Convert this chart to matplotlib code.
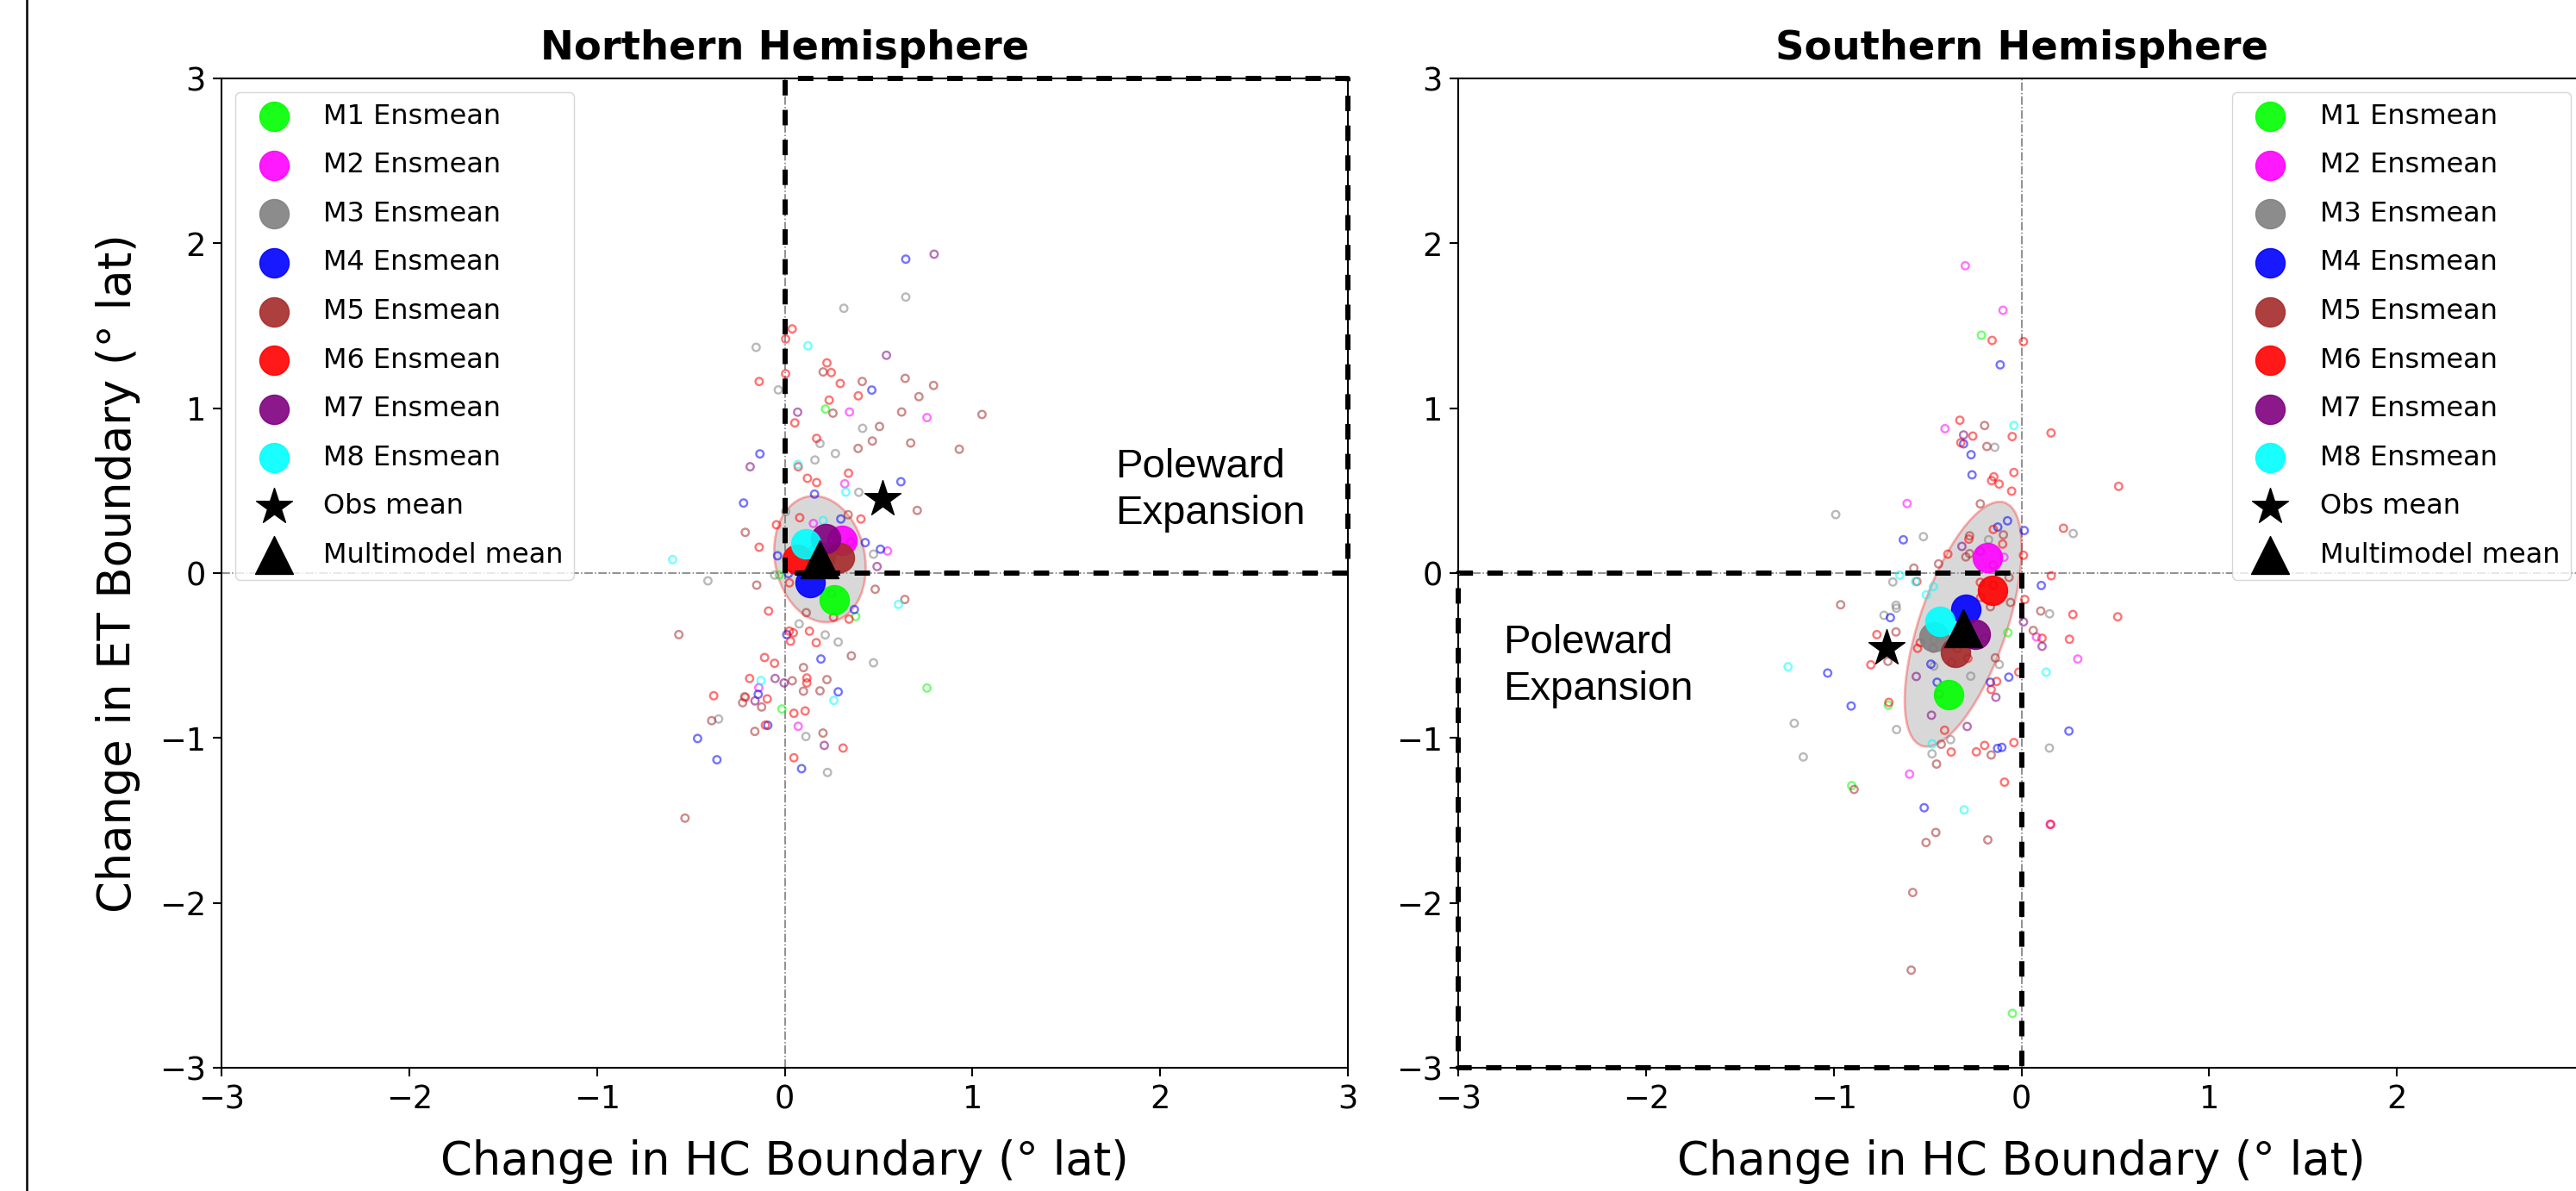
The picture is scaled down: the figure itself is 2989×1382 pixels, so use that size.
import numpy as np
import matplotlib
matplotlib.use('Agg')
import matplotlib.pyplot as plt
from matplotlib.patches import Ellipse
from matplotlib.lines import Line2D

## model names and colours
models = ['M1', 'M2', 'M3', 'M4', 'M5', 'M6', 'M7', 'M8']
colors = ['lime', 'magenta', 'grey', 'blue', 'brown', 'red', 'purple', 'cyan']

## Northern Hemisphere, individual members (dHC, dET)
nh_m1 = np.array([(0.217, 0.995), (-0.029, -0.012), (0.378, -0.263), (0.758, -0.697), (-0.015, -0.824)])
nh_m2 = np.array([(0.345, 0.977), (0.758, 0.943), (0.320, 0.542), (0.153, 0.301), (0.548, 0.134),
                  (-0.138, -0.695), (0.072, -0.929)])
nh_m3 = np.array([(0.645, 1.674), (0.315, 1.606), (-0.152, 1.369), (-0.034, 1.111), (0.415, 0.878),
                  (0.188, 0.786), (0.270, 0.725), (0.161, 0.686), (0.395, 0.490), (0.005, 0.373),
                  (0.473, 0.115), (-0.409, -0.047), (-0.054, -0.012), (0.250, -0.125), (0.077, -0.308),
                  (0.216, -0.375), (0.285, -0.418), (0.473, -0.544), (-0.214, -0.749), (-0.352, -0.885),
                  (0.113, -0.991), (0.228, -1.209)])
nh_m4 = np.array([(0.645, 1.904), (0.464, 1.110), (-0.132, 0.723), (0.159, 0.479), (0.619, 0.554),
                  (-0.219, 0.425), (0.299, 0.328), (0.429, 0.185), (0.510, 0.145), (-0.038, 0.105),
                  (0.020, -0.003), (0.371, -0.221), (0.011, -0.373), (0.193, -0.521), (0.285, -0.720),
                  (-0.141, -0.735), (-0.090, -0.923), (-0.464, -1.003), (-0.361, -1.132), (0.090, -1.186)])
nh_m5 = np.array([(0.205, 1.220), (0.413, 1.162), (0.642, 1.181), (0.793, 1.138), (0.715, 1.070),
                  (0.257, 0.970), (1.051, 0.962), (0.623, 0.977), (0.505, 0.889), (0.467, 0.801),
                  (0.671, 0.789), (0.391, 0.756), (0.930, 0.751), (0.706, 0.380), (0.338, 0.354),
                  (-0.210, 0.247), (-0.149, -0.073), (0.482, -0.098), (0.640, -0.160), (0.115, -0.240),
                  (0.355, -0.502), (0.100, -0.573), (0.040, -0.653), (0.225, -0.646), (0.100, -0.716),
                  (0.188, -0.714), (-0.224, -0.786), (-0.123, -0.812), (-0.389, -0.895), (-0.159, -0.960),
                  (0.204, -0.970), (-0.531, -1.486), (-0.564, -0.373)])
nh_m6 = np.array([(0.040, 1.481), (0.005, 1.420), (0.225, 1.275), (0.248, 1.216), (0.005, 1.209),
                  (-0.136, 1.162), (0.296, 1.150), (0.392, 1.075), (0.237, 1.049), (0.054, 0.911),
                  (0.170, 0.817), (0.072, 0.645), (0.121, 0.575), (0.170, 0.549), (0.340, 0.606),
                  (0.080, 0.336), (0.406, 0.328), (-0.044, 0.293), (-0.136, 0.157), (0.025, -0.059),
                  (-0.086, -0.230), (0.260, -0.268), (0.343, -0.279), (0.025, -0.352), (0.046, -0.362),
                  (0.031, -0.413), (0.132, -0.352), (0.168, -0.422), (-0.107, -0.512), (-0.054, -0.547),
                  (-0.187, -0.639), (0.118, -0.636), (0.118, -0.666), (-0.378, -0.744), (-0.210, -0.753),
                  (-0.093, -0.763), (0.049, -0.850), (0.109, -0.836), (-0.103, -0.922), (0.311, -1.061),
                  (0.049, -1.120)])
nh_m7 = np.array([(0.796, 1.934), (0.542, 1.321), (0.069, 0.976), (-0.184, 0.645), (0.352, 0.188),
                  (0.492, 0.040), (-0.051, -0.639), (-0.003, -0.666), (-0.158, -0.775), (0.211, -1.045)])
nh_m8 = np.array([(0.124, 1.378), (0.070, 0.659), (0.326, 0.491), (0.205, 0.319), (-0.597, 0.082),
                  (0.606, -0.190), (-0.126, -0.652), (0.262, -0.772)])

## Northern Hemisphere ensemble means, obs, multimodel mean
nh_ensmean = np.array([(0.265, -0.160), (0.303, 0.197), (0.190, 0.100), (0.135, -0.059),
                       (0.292, 0.092), (0.066, 0.084), (0.216, 0.209), (0.112, 0.179)])
nh_obs = (0.521, 0.449)
nh_mmm = (0.188, 0.084)

## Southern Hemisphere, individual members
sh_m1 = np.array([(-0.213, 1.443), (-0.072, -0.361), (-0.709, -0.801), (-0.904, -1.289), (-0.048, -2.670)])
sh_m2 = np.array([(-0.299, 1.864), (-0.098, 1.594), (-0.407, 0.876), (-0.609, 0.422), (-0.093, 0.096),
                  (0.080, -0.387), (0.300, -0.521), (-0.596, -1.219), (0.153, -1.524)])
sh_m3 = np.array([(-0.142, 0.763), (-0.989, 0.355), (0.276, 0.240), (-0.522, 0.221), (-0.175, 0.202),
                  (-0.685, -0.054), (-0.668, -0.195), (-0.666, -0.213), (-0.732, -0.256), (0.150, -0.247),
                  (-0.464, -0.404), (-0.467, -0.564), (-0.270, -0.625), (-0.193, -0.395), (-0.118, -0.554),
                  (-1.210, -0.911), (-1.162, -1.115), (-0.665, -0.949), (-0.377, -1.010), (-0.476, -1.096),
                  (0.149, -1.061)])
sh_m4 = np.array([(-0.113, 1.263), (-0.308, 0.784), (-0.268, 0.718), (-0.263, 0.596), (-0.074, 0.317),
                  (-0.126, 0.279), (0.015, 0.258), (-0.629, 0.202), (-0.219, 0.132), (0.106, -0.075),
                  (-0.698, -0.270), (-1.032, -0.606), (-0.907, -0.806), (-0.482, -0.552), (-0.449, -0.662),
                  (-0.165, -0.662), (-0.067, -0.631), (-0.518, -1.423), (-0.127, -1.063), (-0.104, -1.057),
                  (0.253, -0.958)])
sh_m5 = np.array([(-0.196, 0.895), (-0.184, 0.768), (-0.219, 0.420), (-0.096, 0.232), (-0.276, 0.226),
                  (-0.296, 0.098), (-0.276, 0.118), (-0.150, 0.049), (-0.441, 0.056), (-0.573, 0.030),
                  (-0.066, -0.026), (-0.149, -0.073), (-0.058, -0.178), (-0.165, -0.204), (-0.963, -0.192),
                  (0.103, -0.230), (-0.668, -0.357), (-0.711, -0.535), (-0.891, -1.312), (-0.456, -1.573),
                  (-0.508, -1.634), (-0.179, -1.618), (-0.579, -1.937), (-0.587, -2.408), (-0.470, -0.456),
                  (-0.372, -0.543), (-0.139, -0.514), (-0.438, -0.732), (0.063, -0.348), (-0.427, -1.038),
                  (-0.452, -1.158), (-0.161, -1.103)])
sh_m6 = np.array([(-0.156, 1.411), (0.011, 1.404), (-0.328, 0.927), (-0.259, 0.831), (-0.323, 0.791),
                  (-0.049, 0.828), (0.158, 0.850), (-0.147, 0.584), (-0.159, 0.561), (-0.119, 0.540),
                  (-0.040, 0.610), (-0.052, 0.497), (0.518, 0.526), (-0.150, 0.265), (0.224, 0.272),
                  (-0.280, 0.206), (-0.100, 0.176), (-0.392, 0.115), (0.011, 0.108), (-0.557, -0.051),
                  (0.159, -0.016), (0.018, -0.160), (-0.219, -0.056), (-0.217, -0.148), (0.274, -0.251),
                  (0.513, -0.265), (-0.770, -0.373), (-0.802, -0.556), (-0.706, -0.784), (-0.090, -1.268),
                  (0.156, -1.524), (-0.539, -0.422), (-0.553, -0.456), (-0.342, -0.456), (-0.285, -0.517),
                  (-0.132, -0.657), (-0.161, -0.706), (-0.014, -0.601), (0.110, -0.395), (0.256, -0.401),
                  (-0.409, -0.953), (-0.374, -1.085), (-0.240, -1.084), (-0.196, -1.045), (-0.040, -1.028)])
sh_m7 = np.array([(-0.308, 0.838), (-0.317, 0.162), (0.011, -0.296), (0.110, -0.444), (-0.560, -0.627),
                  (-0.136, -0.753), (-0.479, -0.862), (-0.289, -0.930)])
sh_m8 = np.array([(-0.040, 0.895), (-0.648, -0.012), (-0.564, -0.052), (-0.469, -0.082), (-0.507, -0.132),
                  (-1.243, -0.568), (0.132, -0.601), (-0.305, -1.436), (-0.475, -1.036)])

sh_ensmean = np.array([(-0.387, -0.739), (-0.181, 0.092), (-0.464, -0.387), (-0.296, -0.221),
                       (-0.349, -0.483), (-0.153, -0.105), (-0.247, -0.369), (-0.433, -0.291)])
sh_obs = (-0.717, -0.456)
sh_mmm = (-0.311, -0.334)

nh_members = [nh_m1, nh_m2, nh_m3, nh_m4, nh_m5, nh_m6, nh_m7, nh_m8]
sh_members = [sh_m1, sh_m2, sh_m3, sh_m4, sh_m5, sh_m6, sh_m7, sh_m8]

## spread ellipses (centre, width, height, angle)
nh_ellipse = ((0.188, 0.085), 0.48, 0.77, 8)
sh_ellipse = ((-0.31, -0.31), 1.54, 0.47, 73.8)


def draw_panel(ax, members, ensmean, obs, mmm, ell, box_x, box_y, txt_xy, title, loc):
    ax.axhline(0, color='0.45', ls='-.', lw=1.1, zorder=0)
    ax.axvline(0, color='0.45', ls='-.', lw=1.1, zorder=0)
    e = Ellipse(ell[0], ell[1], ell[2], angle=ell[3], facecolor=(0.5, 0.5, 0.5, 0.3),
                edgecolor=(1, 0, 0, 0.3), lw=2, zorder=1)
    ax.add_patch(e)
    for i in range(8):
        ax.scatter(members[i][:, 0], members[i][:, 1], s=38, facecolors='none',
                   edgecolors=colors[i], linewidths=1.7, alpha=0.55, zorder=2)
        ax.scatter(ensmean[i, 0], ensmean[i, 1], s=600, color=colors[i], alpha=0.9,
                   zorder=3, label=models[i] + ' Ensmean')
    ax.plot(box_x, box_y, color='black', lw=4.3, ls='--', dashes=(3.0, 2.8), zorder=4,
            clip_on=False)
    ax.scatter(obs[0], obs[1], s=1000, marker='*', color='black', zorder=6, label='Obs mean')
    ax.scatter(mmm[0], mmm[1], s=1000, marker='^', color='black', zorder=6, label='Multimodel mean')
    ax.text(txt_xy[0], txt_xy[1], 'Poleward\nExpansion', fontsize=34, family='Liberation Sans',
            ha='left', va='center', linespacing=1.3)
    ax.set_xlim(-3, 3)
    ax.set_ylim(-3, 3)
    ax.set_xticks(range(-3, 4))
    ax.set_yticks(range(-3, 4))
    ax.tick_params(labelsize=26.5, length=7, width=1.5, pad=6)
    for sp in ax.spines.values():
        sp.set_linewidth(1.5)
    ax.set_title(title, fontsize=33.5, fontweight='bold', pad=16)
    ax.set_xlabel(u'Change in HC Boundary (\u00b0 lat)', fontsize=38)
    ax.xaxis.set_label_coords(0.5, -0.072)
    ax.legend(loc=loc, fontsize=23, labelspacing=0.8)


fig = plt.figure(figsize=(29.89, 13.82), dpi=100)
ax1 = fig.add_axes([257 / 2989, 143 / 1382, 1307 / 2989, 1148 / 1382])
ax2 = fig.add_axes([1692 / 2989, 143 / 1382, 1307 / 2989, 1148 / 1382])

draw_panel(ax1, nh_members, nh_ensmean, nh_obs, nh_mmm, nh_ellipse,
           [0, 0, 3, 3, 0], [0, 3, 3, 0, 0], (1.76, 0.50), 'Northern Hemisphere', 'upper left')
draw_panel(ax2, sh_members, sh_ensmean, sh_obs, sh_mmm, sh_ellipse,
           [0, 0, -3, -3, 0], [0, -3, -3, 0, 0], (-2.76, -0.565), 'Southern Hemisphere', 'upper right')

ax1.set_ylabel(u'Change in ET Boundary (\u00b0 lat)', fontsize=38)
ax1.yaxis.set_label_coords(-0.072, 0.5)

## thin frame line at the far left
fig.add_artist(Line2D([31 / 2989, 31 / 2989], [0, 1], color='black', lw=1.8))

plt.savefig('out.png', dpi=100)
plt.close()
